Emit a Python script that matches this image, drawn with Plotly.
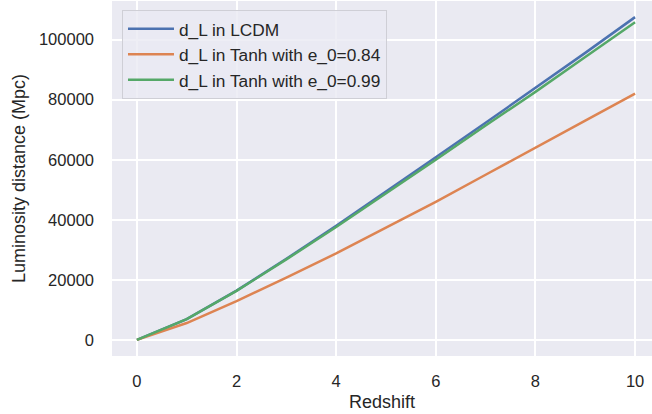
import plotly.graph_objects as go

redshift = [0, 1, 2, 3, 4, 5, 6, 7, 8, 9, 10]
dl_lcdm = [0, 6900, 16400, 27000, 38000, 49300, 60800, 72300, 83800, 95600, 107500]
dl_tanh_084 = [0, 5600, 12900, 20700, 28800, 37300, 46000, 55000, 64100, 73000, 82000]
dl_tanh_099 = [0, 6880, 16300, 26800, 37600, 48700, 60000, 71400, 82600, 94200, 105800]

series_names = ["d_L in LCDM", "d_L in Tanh with e_0=0.84", "d_L in Tanh with e_0=0.99"]
series_colors = ["#4c72b0", "#dd8452", "#55a868"]
x_ticks = [0, 2, 4, 6, 8, 10]
y_ticks = [0, 20000, 40000, 60000, 80000, 100000]

FONT = "Liberation Sans, Arial, sans-serif"
TXT = "#262626"

fig = go.Figure()
for name, vals, col in zip(series_names, [dl_lcdm, dl_tanh_084, dl_tanh_099], series_colors):
    fig.add_trace(go.Scatter(x=redshift, y=vals, mode="lines", name=name,
                             line=dict(color=col, width=2.5)))

fig.update_layout(
    width=652, height=414,
    margin=dict(l=112, r=0, t=1, b=58, autoexpand=False),
    paper_bgcolor="white", plot_bgcolor="#eaeaf2",
    font=dict(family=FONT, size=16, color=TXT),
    showlegend=True,
    legend=dict(
        x=0.0185, y=0.9745, xanchor="left", yanchor="top",
        bgcolor="rgba(234,234,242,0.8)", bordercolor="#cfcfd6", borderwidth=1,
        font=dict(family=FONT, size=17.3, color=TXT),
        tracegroupgap=0, itemwidth=46,
    ),
)
fig.update_xaxes(
    range=[-0.5, 10.34], tickvals=x_ticks, ticktext=[str(v) for v in x_ticks],
    showgrid=True, gridcolor="white", gridwidth=1.5, zeroline=False,
    showline=False, ticks="", ticklabelstandoff=13, automargin=False,
    tickfont=dict(family=FONT, size=16.5, color=TXT),
    title=dict(text="Redshift", font=dict(family=FONT, size=18, color=TXT), standoff=6),
)
fig.update_yaxes(
    range=[-5375, 112875], tickvals=y_ticks, ticktext=[str(v) for v in y_ticks],
    showgrid=True, gridcolor="white", gridwidth=1.5, zeroline=False,
    showline=False, ticks="", ticklabelstandoff=17, automargin=False,
    tickfont=dict(family=FONT, size=16.5, color=TXT),
    title=dict(text="Luminosity distance (Mpc)", font=dict(family=FONT, size=18, color=TXT), standoff=8),
)

fig.write_html("out.html", config={"displayModeBar": False},
               post_script="document.body.style.margin='0';document.body.style.overflow='hidden';")
